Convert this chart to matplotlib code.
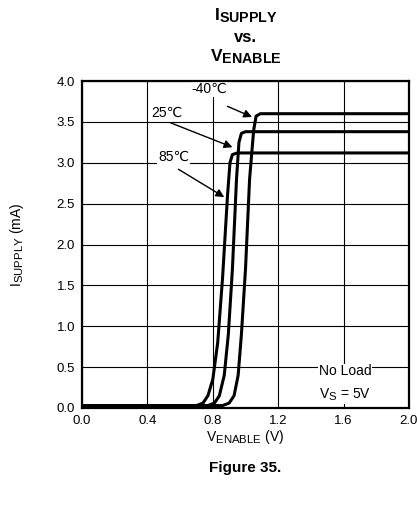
import matplotlib
matplotlib.use("Agg")
import matplotlib.pyplot as plt
import matplotlib._mathtext as _mt

_mt.SHRINK_FACTOR = 0.82

plt.rcParams['font.family'] = ['Liberation Sans', 'DejaVu Sans']
plt.rcParams['mathtext.fontset'] = 'custom'
plt.rcParams['mathtext.rm'] = 'Liberation Sans'
plt.rcParams['mathtext.it'] = 'Liberation Sans'
plt.rcParams['mathtext.bf'] = 'Liberation Sans:bold'

# Data
v_85 = [0, 0.70, 0.74, 0.77, 0.80, 0.83, 0.86, 0.89, 0.905, 0.92, 0.95, 2.0]
i_85 = [0.03, 0.03, 0.06, 0.15, 0.35, 0.8, 1.6, 2.6, 3.0, 3.10, 3.12, 3.12]
v_25 = [0, 0.77, 0.81, 0.84, 0.87, 0.895, 0.92, 0.945, 0.96, 0.975, 1.0, 2.0]
i_25 = [0.03, 0.03, 0.06, 0.15, 0.4, 0.9, 1.7, 2.8, 3.25, 3.36, 3.38, 3.38]
v_m40 = [0, 0.86, 0.90, 0.93, 0.955, 0.975, 1.0, 1.025, 1.05, 1.065, 1.09, 2.0]
i_m40 = [0.03, 0.03, 0.06, 0.15, 0.4, 0.9, 1.7, 2.8, 3.4, 3.57, 3.6, 3.6]

x_ticks = [0.0, 0.4, 0.8, 1.2, 1.6, 2.0]
y_ticks = [0.0, 0.5, 1.0, 1.5, 2.0, 2.5, 3.0, 3.5, 4.0]
x_labels = ['0.0', '0.4', '0.8', '1.2', '1.6', '2.0']
y_labels = ['0.0', '0.5', '1.0', '1.5', '2.0', '2.5', '3.0', '3.5', '4.0']

fig = plt.figure(figsize=(4.17, 5.08), dpi=100)
ax = fig.add_axes([82/417, 100/508, 327/417, 327/508])

for v, i in [(v_85, i_85), (v_25, i_25), (v_m40, i_m40)]:
    ax.plot(v, i, color='black', lw=2.2, solid_joinstyle='round', zorder=3)

ax.set_xlim(0, 2.0)
ax.set_ylim(0, 4.0)
ax.set_xticks(x_ticks)
ax.set_xticklabels(x_labels)
ax.set_yticks(y_ticks)
ax.set_yticklabels(y_labels)
ax.tick_params(length=0, labelsize=9.5, pad=5)
ax.grid(True, color='black', lw=0.8)
ax.set_axisbelow(True)
for s in ax.spines.values():
    s.set_linewidth(1.6)

bbox = dict(facecolor='white', edgecolor='none', pad=0.5)
arrow = dict(arrowstyle='-|>', color='black', lw=1.0, mutation_scale=12, shrinkA=0, shrinkB=0)

ax.text(0.78, 3.90, '-40\u2103', ha='center', va='center', fontsize=10, bbox=bbox, zorder=2)
ax.annotate('', xy=(1.04, 3.56), xytext=(0.89, 3.69), arrowprops=arrow, zorder=4)
ax.text(0.52, 3.61, '25\u2103', ha='center', va='center', fontsize=10, bbox=bbox, zorder=2)
ax.annotate('', xy=(0.92, 3.19), xytext=(0.54, 3.49), arrowprops=arrow, zorder=4)
ax.text(0.56, 3.07, '85\u2103', ha='center', va='center', fontsize=10, bbox=bbox, zorder=2)
ax.annotate('', xy=(0.87, 2.58), xytext=(0.59, 2.92), arrowprops=arrow, zorder=4)

ax.text(1.45, 0.30, 'No Load\n' + r'V$_{\mathrm{S}}$ = 5V', ha='left', va='center',
        fontsize=10, linespacing=1.75, bbox=bbox, zorder=2)

ax.set_ylabel(r'I$_{\mathrm{SUPPLY}}$ (mA)', fontsize=10, labelpad=22)
ax.set_xlabel(r'V$_{\mathrm{ENABLE}}$ (V)', fontsize=10, labelpad=1)

cx = (82 + 409) / 2 / 417
fig.text(cx, 1 - 16/508, r'$\mathbf{I}_{\mathbf{SUPPLY}}$', ha='center', va='center', fontsize=12.5)
fig.text(cx, 1 - 37/508, 'vs.', ha='center', va='center', fontsize=12, fontweight='bold')
fig.text(cx, 1 - 57/508, r'$\mathbf{V}_{\mathbf{ENABLE}}$', ha='center', va='center', fontsize=12.5)
fig.text(cx, 1 - 468/508, 'Figure 35.', ha='center', va='center', fontsize=11, fontweight='bold')

fig.savefig('out.png', dpi=100)
